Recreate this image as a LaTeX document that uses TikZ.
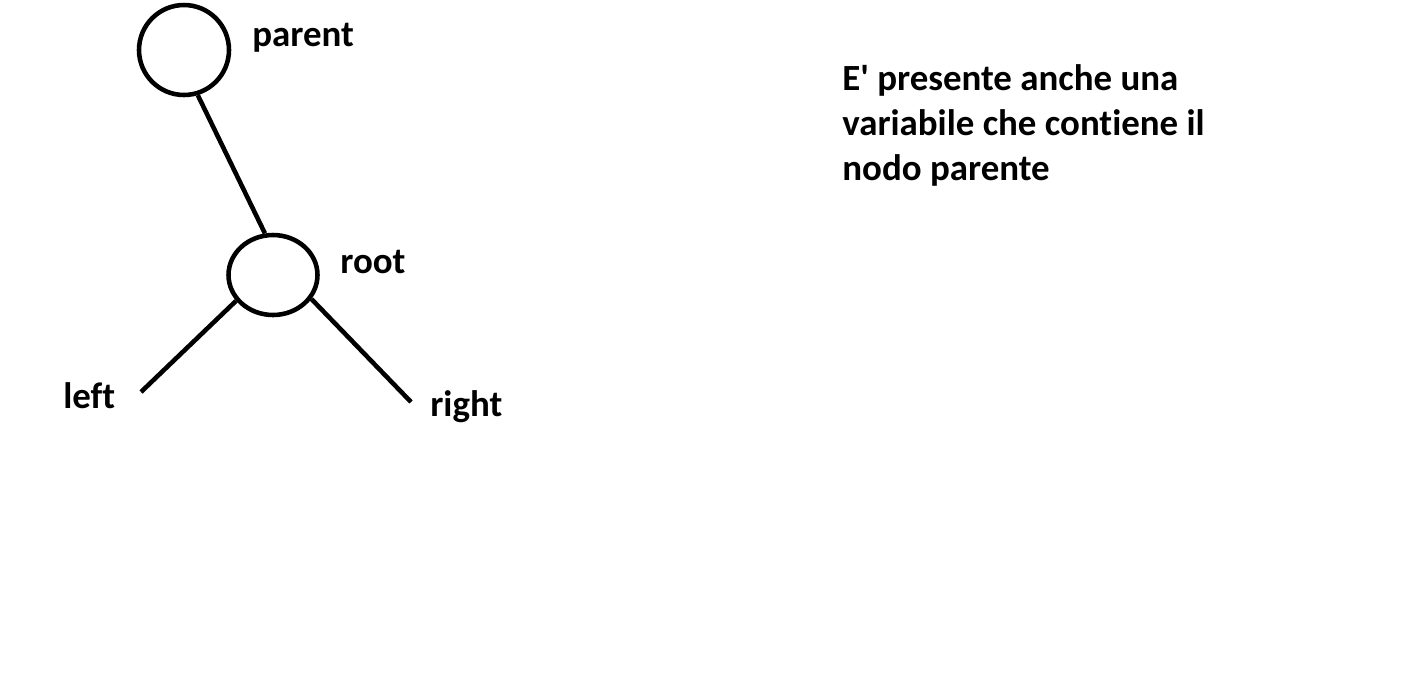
\documentclass[tikz,border=0pt]{standalone}
\usepackage{fontspec}
\setmainfont{Carlito}[Ligatures=NoCommon]
\usetikzlibrary{shapes.geometric}

\begin{document}
\begin{tikzpicture}[x=0.02cm, y=-0.02cm,
  every node/.style={font=\fontsize{21}{23}\selectfont\bfseries},
  treenode/.style={ellipse, draw, line width=2.6pt, inner sep=0pt},
  label text/.style={anchor=base west, inner sep=0pt},
  edge line/.style={line width=2.6pt}]
 \useasboundingbox (0,0) rectangle (1408,680);
 \node [treenode, minimum width=1.8cm, minimum height=1.8cm] (parent) at (184,50) {};
 \node [treenode, minimum width=1.78cm, minimum height=1.6cm] (root) at (273,275) {};
 \coordinate (leftend) at (141,392);
 \coordinate (rightend) at (411,402);
 \node [label text] (parentlbl) at (252,46) {parent};
 \node [label text] (rootlbl) at (340,273) {root};
 \node [label text] (leftlbl) at (63,408) {left};
 \node [label text] (rightlbl) at (430,416) {right};
 \node [label text, align=left, font=\fontsize{21}{25.5}\selectfont\bfseries] (note) at (842,180)
   {E\textquotesingle{} presente anche una\\variabile che contiene il\\nodo parente};
  \draw [edge line] (parent.-73) -- (root.101);
  \draw [edge line] (root.215) -- (leftend);
  \draw [edge line] (root.-32) -- (rightend);
\end{tikzpicture}
\end{document}
